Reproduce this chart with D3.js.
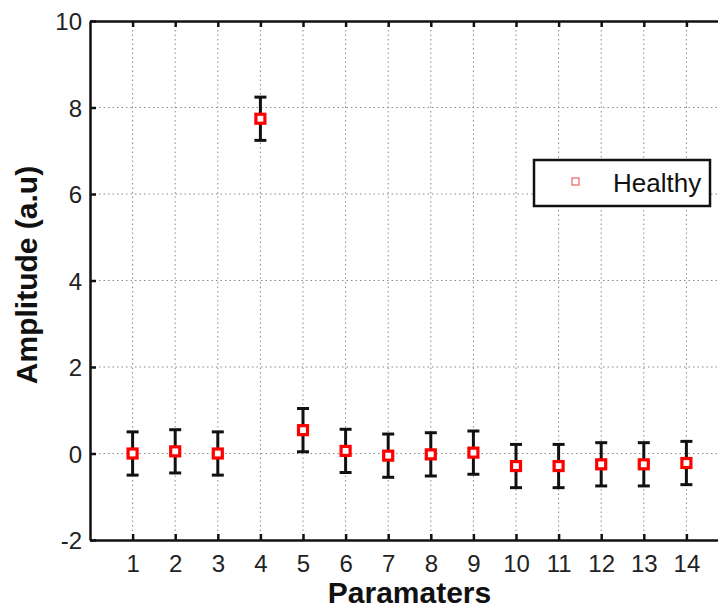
<!DOCTYPE html>
<html><head><meta charset="utf-8">
<script src="https://cdn.jsdelivr.net/npm/d3@7"></script>
<style>html,body{margin:0;padding:0;background:#fff;overflow:hidden}svg{display:block;overflow:hidden}</style>
</head><body>
<svg id="c" width="718" height="613"></svg>
<script>
const params = [1,2,3,4,5,6,7,8,9,10,11,12,13,14];
const means = [0, 0.05, 0, 7.74, 0.54, 0.06, -0.05, -0.02, 0.02, -0.29, -0.29, -0.25, -0.25, -0.22];
const errs = [0.5, 0.5, 0.5, 0.5, 0.5, 0.5, 0.5, 0.5, 0.5, 0.5, 0.5, 0.5, 0.5, 0.5];
const yTicks = [-2, 0, 2, 4, 6, 8, 10];
const seriesName = "Healthy";

const svg = d3.select("#c");
const x = d3.scaleLinear().domain([0, 15]).range([90, 729]);
const y = d3.scaleLinear().domain([-2, 10]).range([540, 21]);
const font = "'Liberation Sans', Arial, sans-serif";

const g = svg.append("g");
g.selectAll("line.vg").data(params).join("line").attr("class", "vg")
  .attr("x1", d => x(d)).attr("x2", d => x(d)).attr("y1", y(10)).attr("y2", y(-2))
  .attr("stroke", "#8a8a8a").attr("stroke-width", 1).attr("stroke-dasharray", "1.5,3");
g.selectAll("line.hg").data(yTicks.filter(d => d > -2 && d < 10)).join("line").attr("class", "hg")
  .attr("x1", x(0)).attr("x2", x(15)).attr("y1", d => y(d)).attr("y2", d => y(d))
  .attr("stroke", "#8a8a8a").attr("stroke-width", 1).attr("stroke-dasharray", "1.5,3");

const fmt = d => String(d);
const xb = svg.append("g").attr("transform", `translate(0,${y(-2)})`)
  .call(d3.axisBottom(x).tickValues(params).tickFormat(fmt).tickSizeInner(-6).tickSizeOuter(0).tickPadding(15));
const xt = svg.append("g").attr("transform", `translate(0,${y(10)})`)
  .call(d3.axisTop(x).tickValues(params).tickSizeInner(-6).tickSizeOuter(0).tickFormat(""));
const yl = svg.append("g").attr("transform", `translate(${x(0)},0)`)
  .call(d3.axisLeft(y).tickValues(yTicks).tickFormat(fmt).tickSizeInner(-6).tickSizeOuter(0).tickPadding(8));
[xb, xt, yl].forEach(a => {
  a.select(".domain").attr("stroke", "#111").attr("stroke-width", 2.5);
  a.selectAll(".tick line").attr("stroke", "#111").attr("stroke-width", 2.5);
  a.selectAll("text").attr("font-family", font).attr("font-size", 24).attr("fill", "#222");
});
xb.selectAll("text").attr("dy", "0.71em");
yl.selectAll("text").attr("dy", "0.36em");

const eb = svg.append("g").attr("stroke", "#111").attr("stroke-width", 3);
params.forEach((p, i) => {
  const cx = x(p), top = y(means[i] + errs[i]), bot = y(means[i] - errs[i]);
  eb.append("line").attr("x1", cx).attr("x2", cx).attr("y1", top).attr("y2", bot);
  eb.append("line").attr("x1", cx - 6).attr("x2", cx + 6).attr("y1", top).attr("y2", top);
  eb.append("line").attr("x1", cx - 6).attr("x2", cx + 6).attr("y1", bot).attr("y2", bot);
});

svg.append("g").selectAll("rect").data(params).join("rect")
  .attr("x", (d) => x(d) - 4.5).attr("y", (d, i) => y(means[i]) - 4.5)
  .attr("width", 9).attr("height", 9)
  .attr("fill", "#fff").attr("stroke", "#ff0000").attr("stroke-width", 3.2);

svg.append("text").attr("x", x(7.5)).attr("y", 603).attr("text-anchor", "middle")
  .attr("font-family", font).attr("font-weight", "bold").attr("font-size", 30).attr("fill", "#111")
  .text("Paramaters");
svg.append("text").attr("transform", `translate(37,275) rotate(-90)`).attr("text-anchor", "middle")
  .attr("font-family", font).attr("font-weight", "bold").attr("font-size", 30).attr("fill", "#111")
  .text("Amplitude (a.u)");

const lg = svg.append("g");
lg.append("rect").attr("x", 534).attr("y", 160).attr("width", 176).attr("height", 46)
  .attr("fill", "#fff").attr("stroke", "#111").attr("stroke-width", 2.5);
lg.append("rect").attr("x", 572).attr("y", 178).attr("width", 7).attr("height", 7)
  .attr("fill", "#fff").attr("stroke", "#f06060").attr("stroke-width", 1.2);
lg.append("text").attr("x", 613).attr("y", 192).attr("font-family", font).attr("font-size", 26)
  .attr("fill", "#111").text(seriesName);
</script>
</body></html>
